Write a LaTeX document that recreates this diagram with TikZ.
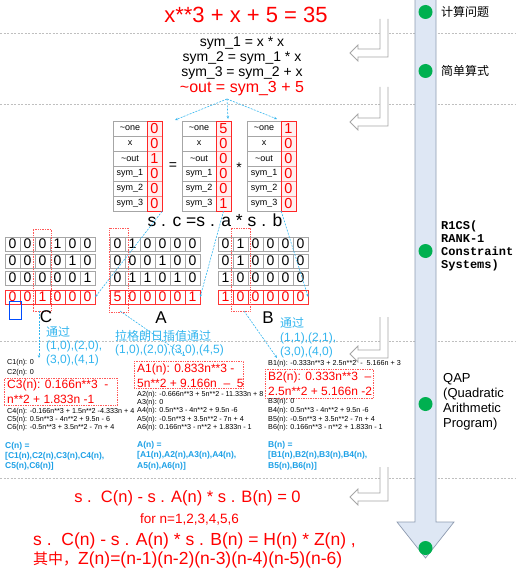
\documentclass[tikz,border=0pt]{standalone}
\usepackage{fontspec}
\setmainfont{Liberation Sans}
\setmonofont{Liberation Mono}
\newfontfamily\cjk{Noto Sans CJK SC}
\usetikzlibrary{arrows.meta}
\definecolor{lblue}{HTML}{33B5EE}
\definecolor{tblue}{HTML}{1CA0E6}
\definecolor{ogreen}{HTML}{00B050}
\definecolor{bandfill}{HTML}{DEE7F4}
\definecolor{bandline}{HTML}{8E9BB0}
\newcommand\fs[1]{\fontsize{#1}{#1}\selectfont}
\newcommand\VT[3]{%
  \foreach \lab [count=\i] in {\textasciitilde one,x,\textasciitilde out,sym\_1,sym\_2,sym\_3}
    \node[labcell] (#1l\i) at (#2+17,113.5+15*\i) {\lab};
  \foreach \v [count=\i] in {#3}
    \node[valcell] (#1v\i) at (#2+41.5,113.5+15*\i) {\v};
  \draw[red!85,line width=0.6pt] (#2+34,121) rectangle (#2+49,211);
}
\newcommand\MR[5]{%
  \foreach \v [count=\c] in {#5}
    \node[#4] (#1\c) at (#2+15*\c-7.5,#3+7) {\v};
}
\newcommand\HA[2]{%
  \draw[hollow] (380,#1) -- (380,#2-4) -- (358,#2-4) -- (358,#2-8) -- (350,#2) -- (358,#2+8) -- (358,#2+4) -- (388,#2+4) -- (388,#1);
}
\begin{document}
\begin{tikzpicture}[x=1pt,y=-1pt,
  sep/.style={draw=gray!50,line width=0.7pt,dash pattern=on 2pt off 1.5pt},
  hollow/.style={draw=gray!70,fill=white,line width=0.8pt},
  dot/.style={circle,fill=ogreen,minimum size=14pt,inner sep=0},
  side/.style={anchor=west,inner sep=0,font=\cjk\fs{12}},
  bluedash/.style={draw=lblue,line width=0.6pt,dash pattern=on 2pt off 1.2pt,-{Stealth[length=3pt,width=2.5pt]}},
  labcell/.style={draw=gray!70,minimum width=34pt,minimum height=15pt,inner sep=0,font=\fs{9}},
  valcell/.style={draw=red!45,fill=red!6,minimum width=15pt,minimum height=15pt,inner sep=0,text=red,font=\fs{14.5}},
  mcell/.style={draw=gray!70,minimum width=15pt,minimum height=14pt,inner sep=0,font=\fs{14}},
  mred/.style={mcell,draw=red!80,text=red},
  hl/.style={draw=red!65,densely dotted,line width=0.7pt},
  small/.style={anchor=west,inner sep=0,font=\fs{7.2}},
  redbig/.style={anchor=west,inner sep=0,text=red,font=\fs{12}},
  bluebold/.style={anchor=west,inner sep=0,text=tblue,font=\bfseries\fs{8.5}},
  bluelab/.style={anchor=west,inner sep=0,text=lblue,font=\fs{12}},
  bluecjk/.style={anchor=west,inner sep=0,text=lblue,font=\cjk\fs{12}}]
\useasboundingbox (0,0) rectangle (516,569);
% separators
\foreach \yy in {33,104,341,478} \draw[sep] (0,\yy) -- (516,\yy);
% side band
\draw[fill=bandfill,draw=bandline,line width=0.7pt] (415,-5) -- (415,522) -- (397,522) -- (425.5,558) -- (454,522) -- (436,522) -- (436,-5);
\node[dot] (d1) at (425.5,12) {};
\node[dot] (d2) at (425.5,71) {};
\node[dot] (d3) at (425.5,251) {};
\node[dot] (d4) at (425.5,404) {};
\node[dot] (d5) at (425.5,548) {};
\node[side] (s1) at (441,12) {计算问题};
\node[side] (s2) at (441,71) {简单算式};
\node[anchor=west,inner sep=0,align=left,font=\ttfamily\bfseries\fontsize{12}{13}\selectfont] (s3) at (441,246) {R1CS(\\RANK-1\\Constraint\\Systems)};
\node[anchor=west,inner sep=0,align=left,font=\fontsize{13}{15}\selectfont] (s4) at (443,402) {QAP\\(Quadratic\\Arithmetic\\Program)};
% hollow arrows
\HA{19}{53}
\HA{87}{122}
\HA{317}{354}
\HA{467}{497}
% top
\node[text=red,font=\fs{22}] (title) at (246,15) {x**3 + x + 5 = 35};
\node[font=\fs{14}] (e1) at (242,43) {sym\_1 = x * x};
\node[font=\fs{14}] (e2) at (242,58) {sym\_2 = sym\_1 * x};
\node[font=\fs{14}] (e3) at (242,73) {sym\_3 = sym\_2 + x};
\node[text=red,font=\fs{16}] (e4) at (242,89) {\textasciitilde out = sym\_3 + 5};
% vectors
\VT{c}{113}{0,0,1,0,0,0}
\VT{a}{182}{5,0,0,0,0,1}
\VT{b}{247}{1,0,0,0,0,0}
\node[font=\fs{14}] (eqs) at (173,166) {=};
\node[font=\fs{14}] (mul) at (239,168) {*};
\node[font=\fs{17.5}] (sc) at (215,220) {s . c =s . a * s . b};
\coordinate (src) at (227,99);
\coordinate (tl) at (175,120);
\coordinate (tm) at (228,119);
\coordinate (tr) at (277,119);
\draw[bluedash] (src) -- (tl);
\draw[bluedash] (src) -- (tm);
\draw[bluedash] (src) -- (tr);
% matrices
\MR{cm1-}{5}{237}{mcell}{0,0,0,1,0,0}
\MR{cm2-}{5}{254}{mcell}{0,0,0,0,1,0}
\MR{cm3-}{5}{271}{mcell}{0,0,0,0,0,1}
\MR{cm4-}{5}{290}{mred}{0,0,1,0,0,0}
\MR{am1-}{110}{237}{mcell}{0,1,0,0,0,0}
\MR{am2-}{110}{254}{mcell}{0,0,0,1,0,0}
\MR{am3-}{110}{271}{mcell}{0,1,1,0,1,0}
\MR{am4-}{110}{290}{mred}{5,0,0,0,0,1}
\MR{bm1-}{218}{237}{mcell}{0,1,0,0,0,0}
\MR{bm2-}{218}{254}{mcell}{0,1,0,0,0,0}
\MR{bm3-}{218}{271}{mcell}{1,0,0,0,0,0}
\MR{bm4-}{218}{290}{mred}{1,0,0,0,0,0}
\draw[bluedash] (cv6.south east) -- (cm4-6.east);
\draw[bluedash] (av6.south) -- (am4-6.east);
\draw[bluedash] (bl6.south east) -- (bm4-6.east);
\node[hl,minimum width=18pt,minimum height=82pt,inner sep=0] (hc) at (42,270) {};
\node[hl,minimum width=19pt,minimum height=84pt,inner sep=0] (ha) at (118.5,270) {};
\node[hl,minimum width=19pt,minimum height=83pt,inner sep=0] (hb) at (240.5,269.5) {};
\node[draw=blue!70!cyan,line width=0.7pt,minimum width=12pt,minimum height=18pt,inner sep=0] (sel) at (15,310) {};
\node[font=\fs{17}] (lc) at (46,317) {C};
\node[font=\fs{17}] (la) at (161,318) {A};
\node[font=\fs{17}] (lb) at (268,318) {B};
\coordinate (hcs) at (39,311);
\coordinate (hce) at (39,358);
\coordinate (has) at (120,311);
\coordinate (hae) at (185,356);
\coordinate (hbs) at (244,311);
\coordinate (hbe) at (277,358);
\draw[bluedash] (hcs) -- (hce);
\draw[bluedash] (has) -- (hae);
\draw[bluedash] (hbs) -- (hbe);
\node[bluecjk] (tc1) at (46,331.5) {通过};
\node[bluelab] (tc2) at (46,346) {(1,0),(2,0),};
\node[bluelab] (tc3) at (46,360) {(3,0),(4,1)};
\node[bluecjk] (ta1) at (115,336) {拉格朗日插值通过};
\node[bluelab] (ta2) at (115,350) {(1,0),(2,0),(3,0),(4,5)};
\node[bluecjk] (tb1) at (280,323) {通过};
\node[bluelab] (tb2) at (280,338) {(1,1),(2,1),};
\node[bluelab] (tb3) at (280,352) {(3,0),(4,0)};
% QAP C
\node[small] (c1) at (7,363) {C1(n): 0};
\node[small] (c2) at (7,373) {C2(n): 0};
\node[hl,anchor=north west,minimum width=113pt,minimum height=27pt,inner sep=0] (c3b) at (4,378) {};
\node[redbig] (c3a) at (7,385) {C3(n): 0.166n**3 \ -};
\node[redbig] (c3c) at (7,399) {n**2 + 1.833n -1};
\node[small] (c4) at (7,412) {C4(n): -0.166n**3 + 1.5n**2 -4.333n + 4};
\node[small] (c5) at (7,420) {C5(n): 0.5n**3 - 4n**2 + 9.5n - 6};
\node[small] (c6) at (7,428) {C6(n): -0.5n**3 + 3.5n**2 - 7n + 4};
\node[bluebold] (cn1) at (5,446) {C(n) =};
\node[bluebold] (cn2) at (5,456) {[C1(n),C2(n),C3(n),C4(n),};
\node[bluebold] (cn3) at (5,466) {C5(n),C6(n)]};
% QAP A
\node[hl,anchor=north west,minimum width=109pt,minimum height=27pt,inner sep=0] (a1b) at (134,361) {};
\node[redbig] (a1a) at (137,369) {A1(n): 0.833n**3 -};
\node[redbig] (a1c) at (137,383) {5n**2 + 9.166n \ – \ 5};
\node[small] (a2) at (137,395) {A2(n): -0.666n**3 + 5n**2 - 11.333n + 8};
\node[small] (a3) at (137,403) {A3(n): 0};
\node[small] (a4) at (137,411) {A4(n): 0.5n**3 - 4n**2 + 9.5n -6};
\node[small] (a5) at (137,420) {A5(n): -0.5n**3 + 3.5n**2 - 7n + 4};
\node[small] (a6) at (137,428) {A6(n): 0.166n**3 - n**2 + 1.833n - 1};
\node[bluebold] (an1) at (137,445) {A(n) =};
\node[bluebold] (an2) at (137,455) {[A1(n),A2(n),A3(n),A4(n),};
\node[bluebold] (an3) at (137,466) {A5(n),A6(n)]};
% QAP B
\node[small] (b1) at (268,364) {B1(n): -0.333n**3 + 2.5n**2 \ - \ 5.166n + 3};
\node[hl,anchor=north west,minimum width=108pt,minimum height=29pt,inner sep=0] (b2b) at (265,369) {};
\node[redbig] (b2a) at (268,377) {B2(n): 0.333n**3 \ –};
\node[redbig] (b2c) at (268,391) {2.5n**2 + 5.166n -2};
\node[small] (b3) at (268,402) {B3(n): 0};
\node[small] (b4) at (268,411) {B4(n): 0.5n**3 - 4n**2 + 9.5n -6};
\node[small] (b5) at (268,420) {B5(n): -0.5n**3 + 3.5n**2 - 7n + 4};
\node[small] (b6) at (268,428) {B6(n): 0.166n**3 - n**2 + 1.833n - 1};
\node[bluebold] (bn1) at (268,445) {B(n) =};
\node[bluebold] (bn2) at (268,455) {[B1(n),B2(n),B3(n),B4(n),};
\node[bluebold] (bn3) at (268,466) {B5(n),B6(n)]};
% bottom
\node[text=red,font=\fs{16.5}] (q1) at (187.5,498) {s .\ \ C(n) - s . A(n) * s . B(n) = 0};
\node[text=red,font=\fs{13.5}] (q2) at (189.5,519) {for n=1,2,3,4,5,6};
\node[text=red,font=\fs{17.5},anchor=west,inner sep=0] (q3) at (33,541) {s .\ \ C(n) - s . A(n) * s . B(n) = H(n) * Z(n) ,};
\node[text=red,font=\fs{17.5},anchor=west,inner sep=0] (q4) at (33,560) {{\cjk\fs{15}其中，}Z(n)=(n-1)(n-2)(n-3)(n-4)(n-5)(n-6)};
\end{tikzpicture}
\end{document}
